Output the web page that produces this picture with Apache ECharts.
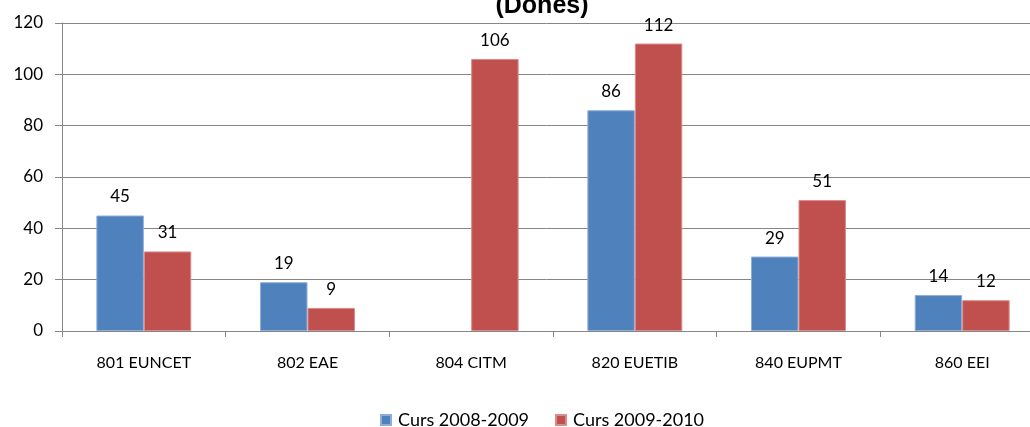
<!DOCTYPE html>
<html><head><meta charset="utf-8">
<script src="https://cdn.jsdelivr.net/npm/echarts@6/dist/echarts.min.js"></script>
<style>html,body{margin:0;padding:0;background:#fff}#c{width:1030px;height:427px}</style>
</head><body><div id="c"></div>
<script>
const categories = ['801 EUNCET','802 EAE','804 CITM','820 EUETIB','840 EUPMT','860 EEI'];
const curs0809 = [45, 19, null, 86, 29, 14];
const curs0910 = [31, 9, 106, 112, 51, 12];
const seriesNames = ['Curs 2008-2009','Curs 2009-2010'];
const titleText = '(Dones)';

const font = 'Lato, "Open Sans", sans-serif';
const chart = echarts.init(document.getElementById('c'), null, {renderer:'canvas'});
chart.setOption({
  animation: false,
  title: { text: titleText, left: 537, textAlign: 'center', top: -11,
    textStyle: { fontFamily: 'Liberation Sans, Arial, sans-serif', fontWeight: 'bold', fontSize: 25, color: '#000' } },
  legend: { bottom: -7, left: 375, itemWidth: 10, itemHeight: 10, itemGap: 26,
    icon: 'rect', textStyle: { fontFamily: font, fontSize: 18, color: '#000', padding: [0,0,0,2] }, data: seriesNames },
  grid: { left: 62, width: 982, top: 23, bottom: 96, outerBoundsMode: 'none', containLabel: false },
  xAxis: { type: 'category', data: categories,
    axisLine: { lineStyle: { color: '#868686', width: 1 } },
    axisTick: { show: true, length: 6, alignWithLabel: false, lineStyle: { color: '#868686' } },
    axisLabel: { color: '#000', fontFamily: font, fontSize: 16, margin: 24 } },
  yAxis: { type: 'value', min: 0, max: 120, interval: 20,
    axisLine: { show: true, lineStyle: { color: '#868686' } },
    axisTick: { show: true, length: 7, lineStyle: { color: '#868686' } },
    splitLine: { lineStyle: { color: '#868686', width: 1 } },
    axisLabel: { color: '#000', fontFamily: font, fontSize: 17, margin: 19 } },
  series: [
    { name: seriesNames[0], type: 'bar', data: curs0809, barGap: '0%', barCategoryGap: '42%',
      itemStyle: { color: '#4F81BD', borderColor: '#8EAEDA', borderWidth: 1 },
      label: { show: true, position: 'top', distance: 10, color: '#000', fontFamily: font, fontSize: 17 } },
    { name: seriesNames[1], type: 'bar', data: curs0910, barGap: '0%', barCategoryGap: '42%',
      itemStyle: { color: '#C0504D', borderColor: '#D98C8A', borderWidth: 1 },
      label: { show: true, position: 'top', distance: 10, color: '#000', fontFamily: font, fontSize: 17 } }
  ]
});
</script></body></html>
